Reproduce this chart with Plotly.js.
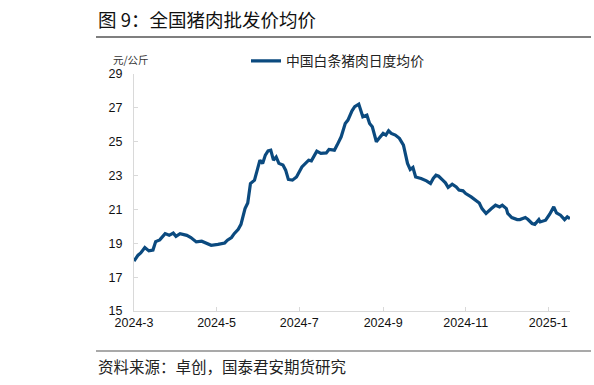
<!DOCTYPE html>
<html>
<head>
<meta charset="utf-8">
<script src="https://cdn.plot.ly/plotly-3.0.1.min.js"></script>
<style>html,body{margin:0;padding:0;background:#fff;}#chart{width:594px;height:385px;}</style>
</head>
<body>
<div id="chart"></div>
<script>
// ---- data ----
const dates = [
 "2024-03-01","2024-03-04","2024-03-06","2024-03-09","2024-03-12","2024-03-15","2024-03-17","2024-03-20",
 "2024-03-24","2024-03-27","2024-03-30","2024-04-01","2024-04-04","2024-04-09","2024-04-12","2024-04-16",
 "2024-04-20","2024-04-25","2024-04-27","2024-05-02","2024-05-07","2024-05-09","2024-05-12","2024-05-14",
 "2024-05-17","2024-05-19","2024-05-22","2024-05-24","2024-05-26","2024-05-29","2024-05-31","2024-06-02",
 "2024-06-04","2024-06-06","2024-06-08","2024-06-10","2024-06-12","2024-06-14","2024-06-16","2024-06-19",
 "2024-06-21","2024-06-23","2024-06-26","2024-06-29","2024-07-03","2024-07-06","2024-07-08","2024-07-10",
 "2024-07-14","2024-07-17","2024-07-21","2024-07-23","2024-07-27","2024-07-29","2024-08-01","2024-08-04",
 "2024-08-06","2024-08-09","2024-08-11","2024-08-14","2024-08-15","2024-08-17","2024-08-20","2024-08-22",
 "2024-08-24","2024-08-27","2024-08-29","2024-09-01","2024-09-03","2024-09-05","2024-09-07","2024-09-10",
 "2024-09-13","2024-09-16","2024-09-19","2024-09-21","2024-09-23","2024-09-25","2024-09-29","2024-10-03",
 "2024-10-06","2024-10-08","2024-10-10","2024-10-12","2024-10-15","2024-10-17","2024-10-19","2024-10-22",
 "2024-10-25","2024-10-27","2024-10-30","2024-11-01","2024-11-05","2024-11-09","2024-11-11","2024-11-13",
 "2024-11-16","2024-11-20","2024-11-23","2024-11-26","2024-11-28","2024-12-01","2024-12-02","2024-12-05",
 "2024-12-09","2024-12-11","2024-12-15","2024-12-17","2024-12-20","2024-12-22","2024-12-25","2024-12-26",
 "2024-12-30","2025-01-02","2025-01-05","2025-01-07","2025-01-10","2025-01-13","2025-01-15","2025-01-17"
];
const prices = [
 17.95,18.30,18.43,18.75,18.55,18.60,19.10,19.20,
 19.57,19.47,19.60,19.41,19.57,19.47,19.34,19.08,
 19.12,18.98,18.88,18.94,19.02,19.18,19.34,19.57,
 19.83,20.12,21.05,21.38,22.53,22.73,23.32,23.91,
 23.72,24.21,24.46,24.50,23.91,24.10,23.72,23.62,
 23.32,22.77,22.73,22.92,23.51,23.75,23.91,23.87,
 24.44,24.31,24.34,24.54,24.50,24.80,25.29,26.08,
 26.28,26.83,27.07,27.22,26.97,26.47,26.57,26.08,
 25.88,25.00,25.20,25.49,25.39,25.65,25.49,25.39,
 25.20,24.80,23.72,23.36,23.48,22.92,22.83,22.69,
 22.53,22.83,23.02,22.96,22.73,22.57,22.30,22.49,
 22.33,22.14,22.10,21.94,21.74,21.50,21.38,21.05,
 20.76,21.05,21.25,21.15,21.25,21.05,20.76,20.52,
 20.40,20.40,20.52,20.40,20.17,20.12,20.40,20.26,
 20.36,20.72,21.15,20.80,20.66,20.40,20.56,20.46
];
const seriesName = "中国白条猪肉日度均价";
const yTicks = [15,17,19,21,23,25,27,29];
const chartTitle = "图 9：全国猪肉批发价均价";
const unitLabel = "元/公斤";
const sourceText = "资料来源：卓创，国泰君安期货研究";

// ---- layout helpers (pixel -> paper) ----
const L = 134, R = 570, T = 74, B = 311, W = 594, H = 385;
const px = v => (v - L) / (R - L);
const py = v => (B - v) / (B - T);
const cjk = '"Noto Sans CJK SC", "Noto Sans", sans-serif';

const trace = {
  x: dates, y: prices, type: 'scatter', mode: 'lines', name: seriesName,
  line: {color: '#0b4a7f', width: 3.2, shape: 'linear'}
};

const layout = {
  width: W, height: H,
  margin: {l: L, r: W - R, t: T, b: H - B, pad: 0},
  paper_bgcolor: '#fff', plot_bgcolor: '#fff',
  showlegend: true,
  legend: {
    x: px(246), y: py(61), xanchor: 'left', yanchor: 'middle',
    orientation: 'h', font: {family: cjk, size: 13.8, color: '#222'},
    bgcolor: 'rgba(0,0,0,0)', itemwidth: 30
  },
  xaxis: {
    type: 'date', range: ['2024-03-01', '2025-01-17'],
    tick0: '2024-03-01', dtick: 'M2', tickformat: '%Y-%-m',
    showgrid: false, zeroline: false,
    showline: true, linecolor: '#d9d9d9', linewidth: 1,
    ticks: 'inside', ticklen: 4, tickcolor: '#d9d9d9',
    tickfont: {family: '"Liberation Sans", Arial, sans-serif', size: 12.5, color: '#111'},
    fixedrange: true
  },
  yaxis: {
    range: [15, 29], tickvals: yTicks, ticktext: yTicks.map(String),
    showgrid: false, zeroline: false,
    showline: true, linecolor: '#d9d9d9', linewidth: 1,
    ticks: 'inside', ticklen: 4, tickcolor: '#d9d9d9',
    ticklabelstandoff: 8,
    tickfont: {family: '"Liberation Sans", Arial, sans-serif', size: 12.5, color: '#111'},
    fixedrange: true
  },
  shapes: [
    {type: 'line', xref: 'paper', yref: 'paper', x0: px(96), x1: px(591), y0: py(37), y1: py(37),
     line: {color: '#555', width: 1.5}},
    {type: 'line', xref: 'paper', yref: 'paper', x0: px(96), x1: px(591), y0: py(351), y1: py(351),
     line: {color: '#555', width: 1.2}}
  ],
  annotations: [
    {text: chartTitle, xref: 'paper', yref: 'paper', x: px(96), y: py(19), xanchor: 'left', yanchor: 'middle',
     showarrow: false, font: {family: cjk, size: 18.5, color: '#111'}},
    {text: unitLabel, xref: 'paper', yref: 'paper', x: px(111), y: py(59), xanchor: 'left', yanchor: 'middle',
     showarrow: false, font: {family: cjk, size: 10.5, color: '#333'}},
    {text: sourceText, xref: 'paper', yref: 'paper', x: px(96), y: py(366), xanchor: 'left', yanchor: 'middle',
     showarrow: false, font: {family: cjk, size: 15.5, color: '#222'}}
  ]
};

Plotly.newPlot('chart', [trace], layout, {displayModeBar: false, staticPlot: true});
</script>
</body>
</html>
